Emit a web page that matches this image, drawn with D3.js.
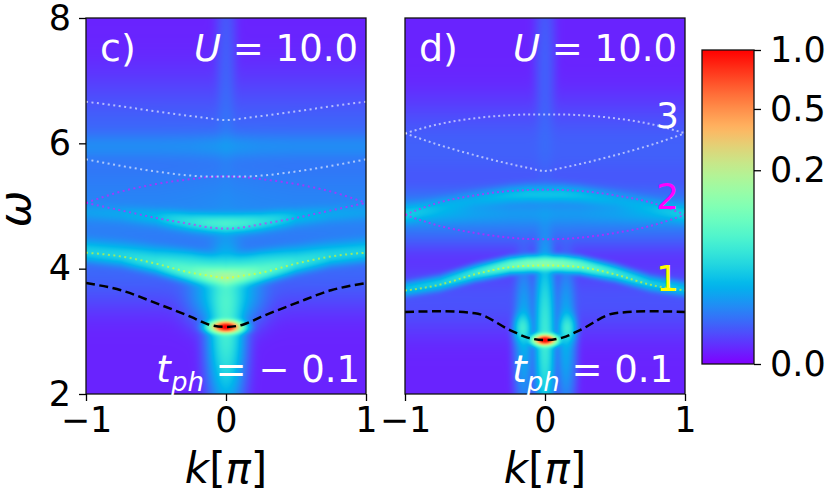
<!DOCTYPE html>
<html>
<head>
<meta charset="utf-8">
<script src="https://cdn.jsdelivr.net/npm/d3@7"></script>
<style>
  body { margin: 0; background: #fff; }
  text { font-family: "DejaVu Sans", sans-serif; }
</style>
</head>
<body>
<svg id="fig" width="832" height="497"></svg>
<script>
// k grid (in units of pi), curves are symmetric in k so only k >= 0 is stored
const kGrid = [0, 0.125, 0.25, 0.5, 0.75, 1];

// panel c) t_ph = -0.1 : dashed bare band + dotted phonon bands
const cBare  = [3.07, 3.11, 3.23, 3.45, 3.655, 3.77];
const cBand1 = [3.855, 3.89, 3.935, 4.08, 4.195, 4.255];
const cMagLo = [4.64, 4.66, 4.71, 4.81, 4.93, 5.05];
const cMagHi = [5.47, 5.46, 5.43, 5.35, 5.23, 5.05];
const cWhtLo = [5.47, 5.47, 5.485, 5.55, 5.64, 5.745];
const cWhtHi = [6.37, 6.40, 6.435, 6.51, 6.59, 6.665];

// panel d) t_ph = 0.1
const dBare  = [2.86, 2.90, 3.02, 3.29, 3.32, 3.31];
const dBand1 = [4.05, 4.045, 4.025, 3.91, 3.745, 3.65];
const dMagLo = [4.47, 4.475, 4.495, 4.57, 4.68, 4.86];
const dMagHi = [5.26, 5.255, 5.24, 5.17, 5.06, 4.86];
const dWhtLo = [5.56, 5.61, 5.67, 5.81, 5.97, 6.16];
const dWhtHi = [6.46, 6.46, 6.45, 6.40, 6.31, 6.16];

// spectral weight ridges (energy, peak height on kGrid, width in omega)
const cRidge1E = [3.87, 3.90, 3.945, 4.08, 4.195, 4.255];
const cRidge1H = [0.13, 0.10, 0.055, 0.022, 0.013, 0.011];
const cArchE   = [4.03, 4.06, 4.10, 4.19, 4.28, 4.33];
const cArchH   = [0.018, 0.024, 0.024, 0.012, 0.007, 0.006];
const cRidge2E = [4.72, 4.73, 4.75, 4.82, 4.87, 4.90];
const cRidge2H = [0.04, 0.035, 0.025, 0.008, 0.004, 0.003];
const cMidE    = [4.9, 4.9, 4.9, 4.9, 4.9, 4.9];
const cMidH    = [0.0032, 0.0032, 0.003, 0.0028, 0.0028, 0.0028];
const cStripeE = [5.95, 5.95, 5.95, 5.95, 5.95, 5.95];
const cStripeH = [0.003, 0.0026, 0.0022, 0.002, 0.002, 0.002];
const cHighE   = [6.0, 6.0, 6.0, 6.0, 6.0, 6.0];
const cHighH   = [0.0012, 0.0012, 0.0012, 0.0012, 0.0012, 0.0012];
const cLowE    = [3.9, 3.9, 3.9, 3.9, 3.9, 3.9];
const cLowH    = [0.0007, 0.0007, 0.0007, 0.0007, 0.0007, 0.0007];

const dRidge1E = [4.08, 4.075, 4.05, 3.93, 3.765, 3.67];
const dRidge1H = [0.10, 0.09, 0.065, 0.03, 0.016, 0.012];
const dLensE   = [5.19, 5.19, 5.17, 5.10, 5.00, 4.86];
const dLensH   = [0.012, 0.012, 0.01, 0.006, 0.005, 0.006];
const dFlatE   = [4.88, 4.88, 4.88, 4.88, 4.88, 4.88];
const dFlatH   = [0.002, 0.002, 0.002, 0.003, 0.005, 0.007];
const dMidE    = [4.85, 4.85, 4.85, 4.85, 4.85, 4.85];
const dMidH    = [0.003, 0.003, 0.003, 0.003, 0.003, 0.003];
const dHighE   = [5.9, 5.9, 5.9, 5.9, 5.9, 5.9];
const dHighH   = [0.0009, 0.0009, 0.0009, 0.0009, 0.0009, 0.0009];
const dLowE    = [3.5, 3.5, 3.5, 3.5, 3.5, 3.5];
const dLowH    = [0.0005, 0.0005, 0.0005, 0.0005, 0.0005, 0.0005];

// localized spots: k0, omega0, height, sigma_k, sigma_omega
const cSpotK  = [0, 0, 0, 0];
const cSpotW  = [3.07, 3.07, 3.6, 7.0];
const cSpotH  = [1, 0.04, 0.018, 0.0008];
const cSpotSk = [0.053, 0.06, 0.12, 0.04];
const cSpotSw = [0.05, 0.6, 0.25, 1.2];

const dSpotK  = [0, 0, -0.16, 0.16, -0.15, 0.15, 0];
const dSpotW  = [2.86, 2.9, 3.05, 3.05, 2.9, 2.9, 7.2];
const dSpotH  = [1, 0.035, 0.03, 0.03, 0.008, 0.008, 0.0008];
const dSpotSk = [0.04, 0.035, 0.03, 0.03, 0.035, 0.035, 0.04];
const dSpotSw = [0.045, 0.7, 0.12, 0.12, 0.6, 0.6, 1.0];

const background = 3e-5;
const yTicks = [2, 4, 6, 8];
const kTicks = [-1, 0, 1];
const cbarTicks = [0, 0.2, 0.5, 1.0];

const svg = d3.select('#fig');
const y = d3.scaleLinear().domain([2, 8]).range([394, 18]);
const xC = d3.scaleLinear().domain([-1, 1]).range([86, 366]);
const xD = d3.scaleLinear().domain([-1, 1]).range([405, 685]);
const norm = d3.scalePow().exponent(0.3).domain([0, 1]).clamp(true);

// matplotlib "rainbow" colormap
function rainbow(t) {
  t = Math.max(0, Math.min(1, t));
  const r = Math.abs(2 * t - 0.5), g = Math.sin(Math.PI * t), b = Math.cos(Math.PI * t / 2);
  return [r, g, b].map(v => Math.round(255 * Math.max(0, Math.min(1, v))));
}

function onGrid(arr) {
  return d3.scaleLinear().domain(kGrid).range(arr).clamp(true);
}

function makeRidges(list) {
  return list.map(([e, h, s]) => ({ e: onGrid(e), h: onGrid(h), s }));
}

function makeSpots(K, W, H, Sk, Sw) {
  return K.map((k0, i) => ({ k0, w0: W[i], h: H[i], sk: Sk[i], sw: Sw[i] }));
}

const panels = [
  {
    x: xC, label: 'c)', tph: '= \u2212 0.1', tphEnd: 360, dots: '2,3.5',
    bare: cBare, bands: [[cBand1, 'yellow'], [cMagLo, 'magenta'], [cMagHi, 'magenta'], [cWhtLo, 'white'], [cWhtHi, 'white']],
    ridges: makeRidges([[cRidge1E, cRidge1H, 0.08], [cArchE, cArchH, 0.1], [cRidge2E, cRidge2H, 0.08],
      [cMidE, cMidH, 0.5], [cStripeE, cStripeH, 0.12], [cHighE, cHighH, 0.5], [cLowE, cLowH, 0.3]]),
    spots: makeSpots(cSpotK, cSpotW, cSpotH, cSpotSk, cSpotSw)
  },
  {
    x: xD, label: 'd)', tph: '= 0.1', tphEnd: 673, dots: '2,3',
    bare: dBare, bands: [[dBand1, 'yellow'], [dMagLo, 'magenta'], [dMagHi, 'magenta'], [dWhtLo, 'white'], [dWhtHi, 'white']],
    ridges: makeRidges([[dRidge1E, dRidge1H, 0.06], [dLensE, dLensH, 0.08], [dFlatE, dFlatH, 0.1],
      [dMidE, dMidH, 0.25], [dHighE, dHighH, 0.4], [dLowE, dLowH, 0.3]]),
    spots: makeSpots(dSpotK, dSpotW, dSpotH, dSpotSk, dSpotSw)
  }
];

function intensity(p, k, w) {
  let v = background;
  const ak = Math.abs(k);
  for (const r of p.ridges) {
    const d = (w - r.e(ak)) / r.s;
    v += r.h(ak) * Math.exp(-0.5 * d * d);
  }
  for (const s of p.spots) {
    const dk = (k - s.k0) / s.sk, dw = (w - s.w0) / s.sw;
    v += s.h * Math.exp(-0.5 * (dk * dk + dw * dw));
  }
  return v;
}

const defs = svg.append('defs');

panels.forEach((p, pi) => {
  const [x0, x1] = p.x.range();
  const [y1, y0] = y.range();
  const W = Math.round(x1 - x0), H = Math.round(y1 - y0);
  const canvas = document.createElement('canvas');
  canvas.width = W; canvas.height = H;
  const ctx = canvas.getContext('2d');
  const img = ctx.createImageData(W, H);
  for (let j = 0; j < H; j++) {
    const w = y.invert(y0 + j + 0.5);
    for (let i = 0; i < W; i++) {
      const k = p.x.invert(x0 + i + 0.5);
      const c = rainbow(norm(intensity(p, k, w)));
      const o = 4 * (j * W + i);
      img.data[o] = c[0]; img.data[o + 1] = c[1]; img.data[o + 2] = c[2]; img.data[o + 3] = 255;
    }
  }
  ctx.putImageData(img, 0, 0);

  const g = svg.append('g');
  g.append('image')
    .attr('x', x0).attr('y', y0).attr('width', W).attr('height', H)
    .attr('preserveAspectRatio', 'none')
    .attr('href', canvas.toDataURL());

  defs.append('clipPath').attr('id', 'clip' + pi)
    .append('rect').attr('x', x0).attr('y', y0).attr('width', W).attr('height', H);

  const mirror = arr => {
    const pts = kGrid.map((k, i) => [k, arr[i]]);
    return pts.slice(1).map(([k, e]) => [-k, e]).reverse().concat(pts);
  };
  const line = d3.line().x(d => p.x(d[0])).y(d => y(d[1])).curve(d3.curveMonotoneX);

  const lines = g.append('g').attr('clip-path', `url(#clip${pi})`);
  p.bands.forEach(([arr, col]) => {
    lines.append('path')
      .attr('d', line(mirror(arr)))
      .attr('fill', 'none')
      .attr('stroke', col)
      .attr('stroke-opacity', col === 'white' ? 0.6 : 0.55)
      .attr('stroke-width', 2)
      .attr('stroke-dasharray', p.dots);
  });
  lines.append('path')
    .attr('d', line(mirror(p.bare)))
    .attr('fill', 'none')
    .attr('stroke', '#000')
    .attr('stroke-width', 2.5)
    .attr('stroke-dasharray', '9,4.5');

  // frame
  g.append('rect')
    .attr('x', x0).attr('y', y0).attr('width', W).attr('height', H)
    .attr('fill', 'none').attr('stroke', '#111').attr('stroke-width', 1.3);

  const xa = g.append('g')
    .attr('transform', `translate(0,${y1})`)
    .call(d3.axisBottom(p.x).tickValues(kTicks).tickSize(7).tickPadding(6).tickFormat(d3.format('d')));
  xa.select('.domain').remove();
  xa.selectAll('line').attr('stroke-width', 1.3);
  xa.selectAll('text').attr('font-size', 35).attr('fill', '#000').attr('font-family', 'DejaVu Sans');

  const cx = p.x(0);
  g.append('text')
    .attr('x', cx).attr('y', 483)
    .attr('text-anchor', 'middle').attr('font-size', 42)
    .html('<tspan font-style="italic">k</tspan>[<tspan font-style="italic">\u03c0</tspan>]');

  // annotations
  g.append('text').attr('x', x0 + 14).attr('y', 61)
    .attr('fill', '#fff').attr('font-size', 38).text(p.label);
  g.append('text').attr('x', x1 - 8).attr('y', 61).attr('text-anchor', 'end')
    .attr('fill', '#fff').attr('font-size', 37)
    .html('<tspan font-style="italic">U</tspan> = 10.0');
  g.append('text').attr('x', p.tphEnd).attr('y', 382).attr('text-anchor', 'end')
    .attr('fill', '#fff').attr('font-size', 37)
    .html(`<tspan font-style="italic">t</tspan><tspan font-style="italic" font-size="26" dy="9">ph</tspan><tspan dy="-9"> ${p.tph}</tspan>`);
});

// y axis on panel c only
const ya = svg.append('g')
  .attr('transform', `translate(${xC.range()[0]},0)`)
  .call(d3.axisLeft(y).tickValues(yTicks).tickSize(7).tickPadding(8).tickFormat(d3.format('d')));
ya.select('.domain').remove();
ya.selectAll('line').attr('stroke-width', 1.3);
ya.selectAll('text').attr('font-size', 35).attr('fill', '#000').attr('font-family', 'DejaVu Sans');

svg.append('text')
  .attr('transform', 'translate(30,209) rotate(-90)')
  .attr('text-anchor', 'middle').attr('font-size', 44).attr('font-style', 'italic')
  .text('\u03c9');

// band index labels on panel d
const bandLabels = ['1', '2', '3'];
const bandLabelY = [3.65, 4.95, 6.25];
const bandLabelCol = ['#ffff00', '#ff00ff', '#ffffff'];
svg.append('g').selectAll('text').data(bandLabels).join('text')
  .attr('x', 679).attr('y', (d, i) => y(bandLabelY[i]))
  .attr('text-anchor', 'end').attr('font-size', 36)
  .attr('fill', (d, i) => bandLabelCol[i])
  .text(d => d);

// colorbar
const cb = { x: 702, w: 52, top: 50, bottom: 364 };
const grad = defs.append('linearGradient').attr('id', 'cbgrad')
  .attr('x1', 0).attr('y1', 1).attr('x2', 0).attr('y2', 0);
d3.range(0, 1.0001, 0.02).forEach(t => {
  const c = rainbow(t);
  grad.append('stop').attr('offset', t).attr('stop-color', `rgb(${c[0]},${c[1]},${c[2]})`);
});
svg.append('rect')
  .attr('x', cb.x).attr('y', cb.top).attr('width', cb.w).attr('height', cb.bottom - cb.top)
  .attr('fill', 'url(#cbgrad)').attr('stroke', '#111').attr('stroke-width', 1.3);
const cbScale = d3.scalePow().exponent(0.3).domain([0, 1]).range([cb.bottom, cb.top]);
const ca = svg.append('g')
  .attr('transform', `translate(${cb.x + cb.w},0)`)
  .call(d3.axisRight(cbScale).tickValues(cbarTicks).tickSize(7).tickPadding(9).tickFormat(d3.format('.1f')));
ca.select('.domain').remove();
ca.selectAll('line').attr('stroke-width', 1.3);
ca.selectAll('text').attr('font-size', 35).attr('fill', '#000').attr('font-family', 'DejaVu Sans');
</script>
</body>
</html>
